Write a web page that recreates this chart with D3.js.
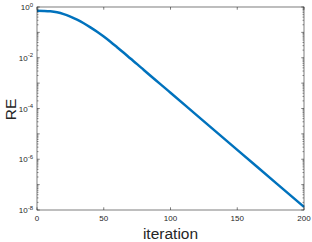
<!DOCTYPE html>
<html>
<head>
<meta charset="utf-8">
<script src="https://cdn.jsdelivr.net/npm/d3@7"></script>
<style>
  body { margin: 0; background: #fff; }
  text { font-family: "Liberation Sans", Arial, sans-serif; fill: #262626; }
</style>
</head>
<body>
<div id="chart"></div>
<script>
// Datos (iteración, error relativo)
const iteraciones = [0, 5, 10, 15, 20, 25, 30, 35, 40, 45, 50, 55, 60, 65, 70, 75, 80, 100, 120, 150, 180, 200];
const errores = [0.708, 0.70, 0.676, 0.617, 0.525, 0.417, 0.316, 0.229, 0.158, 0.106, 0.0684, 0.0427, 0.026,
                 0.0157, 0.0093, 0.0056, 0.0033, 4.2e-4, 5.25e-5, 2.34e-6, 1.05e-7, 1.32e-8];
const ticksX = [0, 50, 100, 150, 200];
const ticksY = [1, 1e-2, 1e-4, 1e-6, 1e-8];
const exponentes = ["0", "-2", "-4", "-6", "-8"];

const width = 312;
const height = 242;
const margin = { top: 7, right: 8, bottom: 32, left: 37 };

const svg = d3.select("#chart")
    .append("svg")
    .attr("width", width)
    .attr("height", height);

const x = d3.scaleLinear()
    .domain([0, 200])
    .range([margin.left, width - margin.right]);

const y = d3.scaleLog()
    .domain([1e-8, 1])
    .range([height - margin.bottom, margin.top]);

const x0 = margin.left, x1 = width - margin.right;
const y0 = height - margin.bottom, y1 = margin.top;
const ejeColor = "#262626";

// Marcas menores (escala log) a izquierda y derecha
const menores = [];
for (let e = -8; e < 0; e++) {
    for (let m = 2; m <= 9; m++) menores.push(m * Math.pow(10, e));
}
const decadas = d3.range(-8, 1).map(e => Math.pow(10, e));

const g = svg.append("g");

// Línea de datos
const linea = d3.line()
    .x((d, i) => x(iteraciones[i]))
    .y(d => y(d))
    .curve(d3.curveMonotoneX);

g.append("path")
    .datum(errores)
    .attr("d", linea)
    .attr("fill", "none")
    .attr("stroke", "#0072BD")
    .attr("stroke-width", 2.5);

// Caja
g.append("rect")
    .attr("x", x0).attr("y", y1)
    .attr("width", x1 - x0).attr("height", y0 - y1)
    .attr("fill", "none")
    .attr("stroke", ejeColor)
    .attr("stroke-width", 0.6);

// Marcas del eje X (abajo y arriba, hacia dentro)
ticksX.forEach(t => {
    g.append("line").attr("x1", x(t)).attr("x2", x(t)).attr("y1", y0).attr("y2", y0 - 2.7)
        .attr("stroke", ejeColor).attr("stroke-width", 0.6);
    g.append("line").attr("x1", x(t)).attr("x2", x(t)).attr("y1", y1).attr("y2", y1 + 2.7)
        .attr("stroke", ejeColor).attr("stroke-width", 0.6);
    g.append("text")
        .attr("x", x(t)).attr("y", y0 + 11)
        .attr("text-anchor", "middle")
        .attr("font-size", 8)
        .text(t);
});

// Marcas del eje Y
decadas.forEach(t => {
    [[x0, 2.7], [x1, -2.7]].forEach(([px, len]) => {
        g.append("line").attr("x1", px).attr("x2", px + len).attr("y1", y(t)).attr("y2", y(t))
            .attr("stroke", ejeColor).attr("stroke-width", 0.6);
    });
});
menores.forEach(t => {
    [[x0, 1.5], [x1, -1.5]].forEach(([px, len]) => {
        g.append("line").attr("x1", px).attr("x2", px + len).attr("y1", y(t)).attr("y2", y(t))
            .attr("stroke", ejeColor).attr("stroke-width", 0.5);
    });
});

ticksY.forEach((t, i) => {
    const txt = g.append("text")
        .attr("x", x0 - 4).attr("y", y(t) + 3)
        .attr("text-anchor", "end")
        .attr("font-size", 8);
    txt.append("tspan").text("10");
    txt.append("tspan").attr("font-size", 6).attr("dy", -3.5).text(exponentes[i]);
});

// Etiquetas de los ejes
svg.append("text")
    .attr("x", (x0 + x1) / 2).attr("y", 239)
    .attr("text-anchor", "middle")
    .attr("font-size", 15.5)
    .text("iteration");

svg.append("text")
    .attr("transform", `translate(16,${(y0 + y1) / 2 + 1}) rotate(-90)`)
    .attr("text-anchor", "middle")
    .attr("font-size", 15.5)
    .text("RE");
</script>
</body>
</html>
